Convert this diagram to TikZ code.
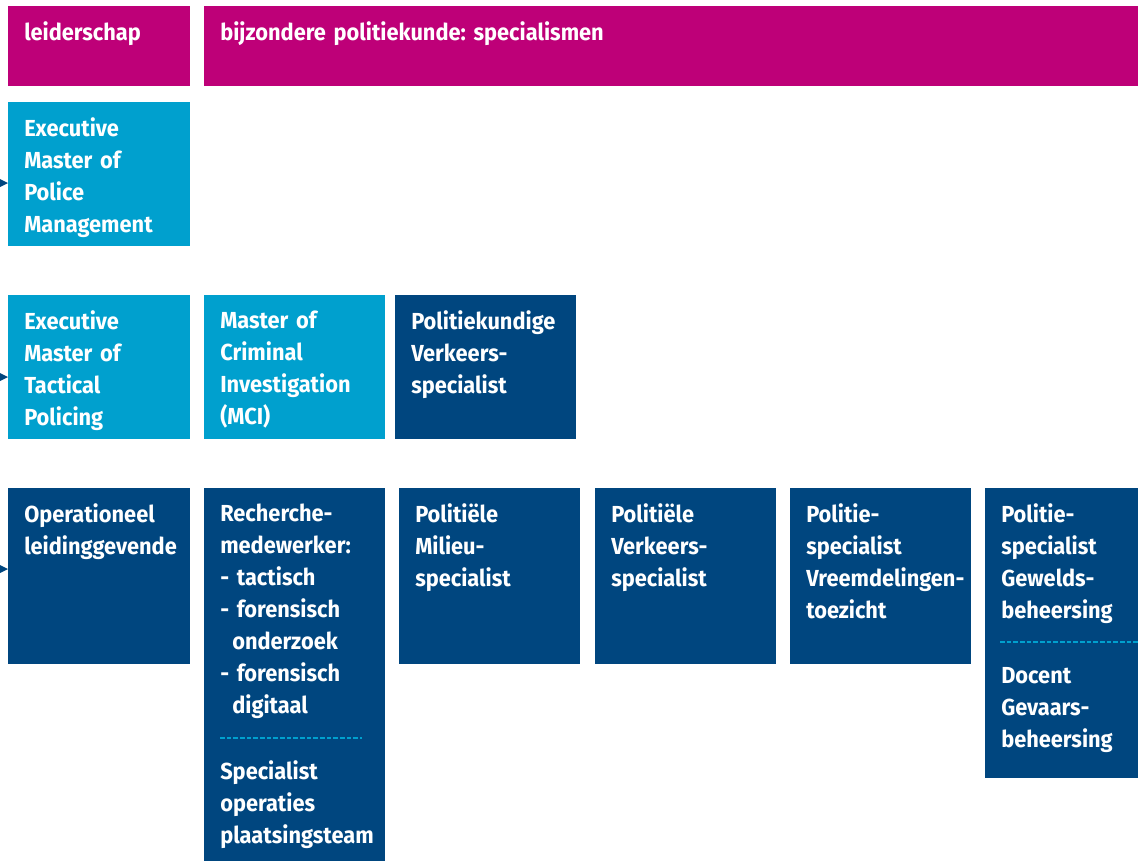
\documentclass[tikz,border=0pt]{standalone}
\usepackage{fontspec}
\setmainfont{Fira Sans}[BoldFont={Fira Sans Bold}, BoldFeatures={FakeStretch=0.94}]
\usetikzlibrary{arrows.meta}
\definecolor{magenta}{RGB}{190,0,120}
\definecolor{lichtblauw}{RGB}{0,160,206}
\definecolor{donkerblauw}{RGB}{0,70,127}
\frenchspacing

\begin{document}
\begin{tikzpicture}[x=0.75pt, y=-0.75pt]

  \tikzset{
    blok/.style={fill=#1, draw=none, anchor=north west, inner sep=0pt},
    tekst/.style={anchor=north west, inner sep=0pt, text width=150pt, align=left,
      text=white, font=\bfseries\fontsize{17.4}{24}\selectfont},
    scheiding/.style={lichtblauw, line width=1.2pt, dash pattern=on 3.5pt off 1.5pt},
    pijlin/.style={-{Triangle[length=6pt, width=6pt]}, donkerblauw, line width=0pt}
  }

  \useasboundingbox (0,0) rectangle (1138,861);

  % bovenste rij
  \node[blok=magenta, minimum width=136.5pt, minimum height=60pt] (lead) at (8,6) {};
  \node[blok=magenta, minimum width=700.5pt, minimum height=60pt] (bijz) at (204,6) {};

  % leiderschap
  \node[blok=lichtblauw, minimum width=136.5pt, minimum height=108pt] (empm) at (8,102) {};
  \node[blok=lichtblauw, minimum width=136.5pt, minimum height=108pt] (emtp) at (8,295) {};
  \node[blok=donkerblauw, minimum width=136.5pt, minimum height=132pt] (opld) at (8,488) {};

  % specialismen
  \node[blok=lichtblauw, minimum width=135.75pt, minimum height=108pt] (mci) at (204,295) {};
  \node[blok=donkerblauw, minimum width=135.75pt, minimum height=108pt] (pkvs) at (395,295) {};
  \node[blok=donkerblauw, minimum width=135.75pt, minimum height=279.75pt] (rech) at (204,488) {};
  \node[blok=donkerblauw, minimum width=135.75pt, minimum height=132pt] (milieu) at (399,488) {};
  \node[blok=donkerblauw, minimum width=135.75pt, minimum height=132pt] (verkeer) at (595,488) {};
  \node[blok=donkerblauw, minimum width=135.75pt, minimum height=132pt] (vreemd) at (790,488) {};
  \node[blok=donkerblauw, minimum width=114.75pt, minimum height=217.5pt] (geweld) at (985,488) {};

  % teksten
  \node[tekst] (t-lead) at ([shift={(12pt,-11.5pt)}]lead.north west) {leiderschap};
  \node[tekst, text width=400pt] (t-bijz) at ([shift={(12pt,-11.5pt)}]bijz.north west) {bijzondere politiekunde: specialismen};
  \node[tekst] (t-empm) at ([shift={(12pt,-11.5pt)}]empm.north west) {Executive\\Master of\\Police\\Management};
  \node[tekst] (t-emtp) at ([shift={(12pt,-11.5pt)}]emtp.north west) {Executive\\Master of\\Tactical\\Policing};
  \node[tekst] (t-opld) at ([shift={(12pt,-11.5pt)}]opld.north west) {Operationeel\\leidinggevende};
  \node[tekst] (t-mci) at ([shift={(12pt,-11.5pt)}]mci.north west) {Master of\\Criminal\\Investigation\\(MCI)};
  \node[tekst] (t-pkvs) at ([shift={(12pt,-11.5pt)}]pkvs.north west) {Politiekundige\\Verkeers-\\specialist};
  \node[tekst] (t-rech) at ([shift={(12pt,-11.5pt)}]rech.north west) {Recherche-\\medewerker:\\- tactisch\\- forensisch\\\hspace*{9pt}onderzoek\\- forensisch\\\hspace*{9pt}digitaal};
  \node[tekst] (t-spot) at ([shift={(12pt,-204.5pt)}]rech.north west) {Specialist\\operaties\\plaatsingsteam};
  \node[tekst] (t-milieu) at ([shift={(12pt,-11.5pt)}]milieu.north west) {Politiële\\Milieu-\\specialist};
  \node[tekst] (t-verkeer) at ([shift={(12pt,-11.5pt)}]verkeer.north west) {Politiële\\Verkeers-\\specialist};
  \node[tekst] (t-vreemd) at ([shift={(12pt,-11.5pt)}]vreemd.north west) {Politie-\\specialist\\Vreemdelingen-\\toezicht};
  \node[tekst] (t-geweld) at ([shift={(12pt,-11.5pt)}]geweld.north west) {Politie-\\specialist\\Gewelds-\\beheersing};
  \node[tekst] (t-docent) at ([shift={(12pt,-134pt)}]geweld.north west) {Docent\\Gevaars-\\beheersing};

  % stippellijnen
  \draw[scheiding] (220,738) -- (362,738);
  \draw[scheiding] (1000,642) -- (1138,642);

  % binnenkomende pijlen
  \coordinate (in1) at (0,183);
  \coordinate (in2) at (0,377);
  \coordinate (in3) at (0,569);
  \draw[pijlin] (in1) -- (in1 -| empm.west);
  \draw[pijlin] (in2) -- (in2 -| emtp.west);
  \draw[pijlin] (in3) -- (in3 -| opld.west);

\end{tikzpicture}
\end{document}
